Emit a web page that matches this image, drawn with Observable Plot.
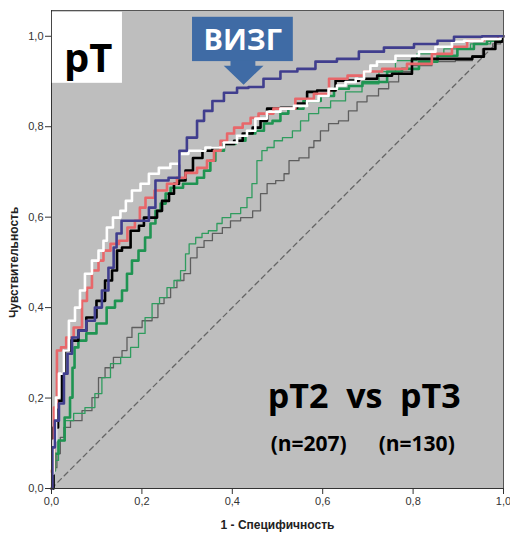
<!DOCTYPE html>
<html><head><meta charset="utf-8">
<script src="https://cdn.jsdelivr.net/npm/d3@7"></script>
<script src="https://cdn.jsdelivr.net/npm/@observablehq/plot@0.6"></script>
<style>
body{margin:0;background:#fff;}
svg text{white-space:pre;}
</style></head><body><div id="chart"></div>
<script>
// ROC curves: 1 - specificity (x) vs sensitivity (y)
const vizgX = [0,.004,.011,.022,.033,.038,.053,.066,.088,.104,.119,.133,.142,.146,.164,.208,.223,.237,.281,.285,.314,.330,.345,.367,.396,.425,.447,.491,.522,.566,.602,.661,.699,.772,.832,.876,.905,1];
const vizgY = [0,.091,.150,.188,.254,.298,.334,.349,.371,.400,.438,.488,.533,.564,.592,.592,.621,.681,.687,.747,.776,.813,.835,.857,.875,.886,.888,.906,.922,.928,.944,.950,.966,.975,.983,.990,.999,1];

const whiteX = [0,0,.009,.011,.022,.033,.044,.060,.066,.082,.097,.111,.119,.126,.146,.159,.170,.186,.208,.223,.252,.274,.292,.314,.367,.396,.425,.440,.462,.491,.522,.551,.580,.602,.624,.639,.662,.684,.699,.712,.728,.794,.832,.867,.905,.920,.987,1];
const whiteY = [0,.033,.106,.201,.254,.305,.371,.400,.438,.475,.504,.526,.548,.577,.599,.614,.636,.659,.674,.696,.709,.718,.740,.747,.754,.765,.780,.791,.818,.833,.840,.846,.857,.868,.884,.891,.899,.906,.922,.935,.944,.957,.966,.977,.988,.990,.994,1];

const redX = [0,.002,.009,.015,.027,.038,.060,.075,.082,.097,.111,.119,.142,.157,.179,.190,.201,.215,.241,.270,.285,.308,.336,.352,.367,.381,.396,.412,.434,.447,.469,.513,.566,.595,.633,.677,.706,.757,.816,.867,.905,.934,.978,1];
const redY = [0,.040,.179,.305,.312,.334,.356,.415,.444,.482,.504,.526,.541,.548,.577,.592,.621,.643,.659,.674,.687,.698,.709,.725,.747,.769,.785,.798,.807,.820,.829,.840,.862,.873,.906,.913,.922,.928,.939,.961,.977,.990,.994,1];

const blackX = [0,.009,.020,.027,.033,.053,.066,.088,.111,.126,.142,.148,.164,.186,.201,.208,.230,.237,.252,.268,.274,.290,.303,.323,.345,.367,.396,.412,.434,.456,.469,.485,.529,.558,.573,.602,.655,.706,.735,.772,.823,.920,.942,.971,.993,1];
const blackY = [0,.135,.194,.254,.305,.327,.349,.378,.415,.460,.482,.526,.533,.570,.581,.599,.599,.614,.636,.652,.674,.681,.703,.731,.747,.754,.762,.769,.785,.798,.813,.840,.842,.851,.877,.880,.902,.906,.913,.917,.950,.950,.955,.972,.988,1];

const greenX = [0,.004,.011,.020,.038,.044,.049,.053,.066,.088,.111,.133,.148,.164,.170,.186,.199,.215,.223,.237,.246,.259,.268,.314,.330,.345,.358,.367,.396,.418,.440,.462,.478,.500,.513,.535,.580,.611,.639,.677,.699,.728,.757,.794,.832,.876,.920,.949,.978,1];
const greenY = [0,.040,.077,.106,.157,.201,.267,.312,.327,.343,.365,.400,.415,.438,.475,.504,.526,.555,.586,.614,.630,.652,.665,.674,.687,.703,.725,.747,.762,.769,.785,.791,.807,.813,.829,.840,.857,.868,.884,.890,.899,.899,.922,.928,.944,.957,.972,.983,.990,1];

const thinGreenX = [0,.009,.022,.038,.060,.088,.104,.119,.142,.164,.186,.199,.215,.230,.248,.263,.279,.292,.301,.308,.330,.336,.358,.374,.381,.412,.425,.440,.447,.462,.469,.485,.500,.522,.544,.558,.580,.602,.633,.668,.706,.743,.779,.838,.898,.956,.987,1];
const thinGreenY = [0,.062,.106,.150,.166,.179,.210,.245,.276,.290,.312,.343,.378,.409,.422,.444,.460,.482,.519,.541,.555,.564,.570,.586,.599,.608,.621,.643,.674,.725,.747,.754,.769,.776,.791,.813,.829,.842,.857,.877,.895,.922,.946,.961,.972,.983,.990,1];

const grayX = [0,.009,.015,.024,.031,.053,.082,.097,.111,.126,.148,.164,.170,.186,.215,.230,.241,.257,.270,.285,.301,.314,.330,.345,.367,.389,.403,.434,.456,.469,.485,.507,.522,.529,.566,.573,.588,.602,.624,.646,.668,.684,.712,.735,.757,.779,.816,.867,.920,.942,.965,.987,1];
const grayY = [0,.046,.077,.113,.135,.150,.172,.201,.245,.267,.290,.305,.334,.356,.371,.378,.409,.422,.444,.460,.475,.510,.533,.548,.564,.577,.592,.599,.614,.652,.674,.681,.696,.725,.731,.754,.769,.791,.807,.813,.835,.855,.868,.884,.899,.922,.935,.944,.946,.957,.972,.983,1];

const diagonal = [0, 1];
const ticks = [0, 0.2, 0.4, 0.6, 0.8, 1.0];

// series styles
const curves = [
  {xs: grayX, ys: grayY, stroke: "#5e5e5e", w: 1.3},
  {xs: thinGreenX, ys: thinGreenY, stroke: "#2f9c5e", w: 1.3},
  {xs: greenX, ys: greenY, stroke: "#1f9452", w: 2.6},
  {xs: blackX, ys: blackY, stroke: "#000000", w: 2.6},
  {xs: redX, ys: redY, stroke: "#e8676a", w: 2.6},
  {xs: whiteX, ys: whiteY, stroke: "#ffffff", w: 2.6},
  {xs: vizgX, ys: vizgY, stroke: "#403e8e", w: 2.6}
];

// annotation layout (data units)
const L = {
  pTBox: {x1: 0.002, x2: 0.157, y1: 0.896, y2: 1.053},
  pT: {x: 0.081, y: 0.921},
  vizgBox: {x1: 0.312, x2: 0.535, y1: 0.944, y2: 1.042},
  vizg: {x: 0.423, y: 0.969},
  arrowX: [0.396, 0.451, 0.451, 0.469, 0.425, 0.381, 0.396],
  arrowY: [0.946, 0.946, 0.935, 0.935, 0.893, 0.935, 0.935],
  cmp: {x: 0.692, y: 0.177},
  n1: {x: 0.569, y: 0.084},
  n2: {x: 0.808, y: 0.084}
};

const fmt = d => d.toFixed(1).replace(".", ",");
const F = "Open Sans, Lato, sans-serif";

const marks = [
  Plot.frame({fill: "#bebebe", stroke: "none"}),
  Plot.line(diagonal, {x: d => d, y: d => d, stroke: "#666", strokeWidth: 1.3, strokeDasharray: "5,4"}),
  ...curves.map(c => Plot.line(d3.zip(c.xs, c.ys), {x: d => d[0], y: d => d[1], stroke: c.stroke, strokeWidth: c.w, curve: "step"})),
  Plot.frame({stroke: "#555", strokeWidth: 1}),
  Plot.axisX({ticks, tickFormat: fmt, tickSize: 6, tickPadding: 3, fontSize: 11, label: null, stroke: "#333", color: "#333"}),
  Plot.axisY({ticks, tickFormat: fmt, tickSize: 6, tickPadding: 2, fontSize: 11, label: null, stroke: "#333", color: "#333"}),
  Plot.ruleX([0], {stroke: "#333"}),
  Plot.ruleY([0], {stroke: "#333"}),
  Plot.text(["Чувствительность"], {x: 0, y: 0.5, dx: -37, rotate: -90, fontWeight: "bold", fontSize: 12, fill: "#222", fontFamily: "Liberation Sans, Arial, sans-serif"}),
  Plot.text(["1 - Специфичность"], {x: 0.5, y: 0, dy: 37, fontWeight: "bold", fontSize: 12, fill: "#222", fontFamily: "Liberation Sans, Arial, sans-serif"}),
  Plot.rect([L.pTBox], {x1: "x1", x2: "x2", y1: "y1", y2: "y2", fill: "white"}),
  Plot.text(["pT"], {x: L.pT.x, y: L.pT.y, lineAnchor: "bottom", fontSize: 40, fontWeight: "bold", fill: "#000", fontFamily: F}),
  Plot.rect([L.vizgBox], {x1: "x1", x2: "x2", y1: "y1", y2: "y2", fill: "#3f6ba5"}),
  Plot.line(d3.zip(L.arrowX, L.arrowY), {x: d => d[0], y: d => d[1], fill: "#3f6ba5", stroke: "none"}),
  Plot.text(["ВИЗГ"], {x: L.vizg.x, y: L.vizg.y, lineAnchor: "bottom", fontSize: 29, fontWeight: "bold", fill: "#fff", fontFamily: F}),
  Plot.text(["pT2  vs  pT3"], {x: L.cmp.x, y: L.cmp.y, lineAnchor: "bottom", fontSize: 34, fontWeight: "bold", fill: "#000", fontFamily: F}),
  Plot.text(["(n=207)"], {x: L.n1.x, y: L.n1.y, lineAnchor: "bottom", fontSize: 21, fontWeight: "bold", fill: "#000", fontFamily: F}),
  Plot.text(["(n=130)"], {x: L.n2.x, y: L.n2.y, lineAnchor: "bottom", fontSize: 21, fontWeight: "bold", fill: "#000", fontFamily: F})
];

const chart = Plot.plot({
  width: 510, height: 534,
  marginLeft: 51, marginRight: 7, marginTop: 10, marginBottom: 46,
  x: {domain: [0, 1]},
  y: {domain: [0, 1.057]},
  style: {fontFamily: "Liberation Sans, Arial, sans-serif", fontSize: "11px", background: "white"},
  marks
});
document.getElementById("chart").appendChild(chart);
</script></body></html>
